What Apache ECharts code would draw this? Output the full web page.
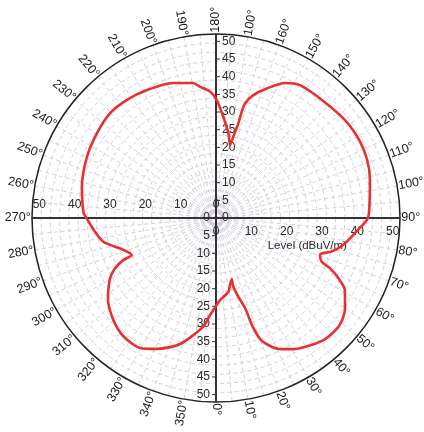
<!DOCTYPE html>
<html><head><meta charset="utf-8">
<script src="https://cdn.jsdelivr.net/npm/echarts@6/dist/echarts.min.js"></script>
<style>html,body{margin:0;padding:0;background:#fff}#c{width:424px;height:432px}</style>
</head><body><div id="c"></div>
<script>
// Angle tick values (degrees) and their printed labels
const angleTicks = [0,10,20,30,40,50,60,70,80,90,100,110,120,130,140,150,160,170,180,190,200,210,220,230,240,250,260,270,280,290,300,310,320,330,340,350];
const angleLabels = ['0°','10°','20°','30°','40°','50°','60°','70°','80°','90°','100°','110°','120°','130°','140°','150°','160°','100°','180°','190°','200°','210°','220°','230°','240°','250°','260°','270°','280°','290°','300°','310°','320°','330°','340°','350°'];
// Level axis labels
const verticalTicks = [0,5,10,15,20,25,30,35,40,45,50];
const horizontalTicks = [0,10,20,30,40,50];
const axisTitle = 'Level (dBuV/m)';
// Radiation pattern, in path order
const patternAngles = [2.8,9.5,11.8,14.4,14.1,15.8,17.9,18.7,20.5,25.7,30.1,40.8,48.7,54.8,60.8,63.8,66.2,67.5,70.4,71.5,73.8,78.0,83.8,89.2,91.9,103.9,111.0,118.6,127.2,138.1,147.7,152.9,158.6,163.1,165.8,166.4,166.7,168.0,169.1,171.7,175.9,179.7,182.7,186.9,189.7,197.7,208.3,217.0,225.3,234.5,244.7,257.0,267.8,270.5,276.5,281.9,285.9,289.0,293.7,294.4,296.5,299.6,303.8,306.9,314.4,321.8,329.7,335.8,344.1,353.2,356.5,359.4,2.8];
const patternLevels = [22.3,20.3,18.6,17.2,19.2,22.2,25.7,31.3,35.7,39.5,41.2,44.1,44.5,42.9,40.1,37.1,33.9,31.1,30.0,30.3,32.7,35.3,38.0,41.0,41.6,43.1,44.0,44.3,44.0,43.1,42.7,41.2,37.8,34.9,32.1,29.7,26.4,22.6,20.2,23.3,27.6,32.1,34.4,35.9,37.2,38.5,39.5,40.2,40.5,39.7,38.8,37.4,36.0,35.0,33.1,31.3,28.5,26.6,25.0,27.7,30.7,33.1,35.2,36.7,39.2,40.8,40.9,39.0,35.6,29.8,26.4,24.3,22.3];

const RMAX = 50;
const LABEL_SCALE = 0.96;
const FONT = '"Liberation Sans", Arial, sans-serif';
const GRID_COLOR = '#d5cee0';

const chart = echarts.init(document.getElementById('c'), null, {renderer: 'canvas'});

function renderDecor(params, api) {
  const ch = [];
  const pT = api.coord([RMAX, 180]), pB = api.coord([RMAX, 0]);
  const pL = api.coord([RMAX, 270]), pR = api.coord([RMAX, 90]);
  const axisStyle = {stroke: '#333', lineWidth: 2};
  ch.push({type: 'line', shape: {x1: pL[0], y1: pL[1], x2: pR[0], y2: pR[1]}, style: axisStyle});
  ch.push({type: 'line', shape: {x1: pT[0], y1: pT[1], x2: pB[0], y2: pB[1]}, style: axisStyle});

  // angle labels, rotated along the radius
  angleTicks.forEach((a, i) => {
    const p = api.coord([RMAX + 0.35, a]);
    let phi = ((270 + a) % 360 + 360) % 360;
    let rot, align = 'left';
    if (phi > 90 && phi < 270) { rot = phi - 180; align = 'right'; }
    else if (phi >= 270) { rot = phi - 360; }
    else { rot = phi; }
    ch.push({type: 'text', x: p[0], y: p[1], rotation: rot * Math.PI / 180,
      style: {text: angleLabels[i], x: 0, y: 0, align: align, verticalAlign: 'middle',
        fill: '#1a1a1a', font: '12.5px ' + FONT}});
  });

  // vertical axis labels: top half right of axis, bottom half left of axis
  verticalTicks.forEach(v => {
    const pt = api.coord([v * LABEL_SCALE, 180]);
    const pb = api.coord([v * LABEL_SCALE, 0]);
    ch.push({type: 'text', x: pt[0] + 6, y: pt[1], style: {text: String(v), align: 'left', verticalAlign: 'middle', fill: '#2a2a2a', font: '12px ' + FONT}});
    ch.push({type: 'text', x: pb[0] - 6, y: pb[1], style: {text: String(v), align: 'right', verticalAlign: 'middle', fill: '#2a2a2a', font: '12px ' + FONT}});
    if (v > 0) {
      ch.push({type: 'line', shape: {x1: pt[0], y1: pt[1], x2: pt[0] + 4, y2: pt[1]}, style: {stroke: '#333', lineWidth: 1}});
      ch.push({type: 'line', shape: {x1: pb[0] - 4, y1: pb[1], x2: pb[0], y2: pb[1]}, style: {stroke: '#333', lineWidth: 1}});
    }
  });
  // horizontal axis labels: left half above, right half below
  horizontalTicks.forEach(v => {
    const pl = api.coord([v * LABEL_SCALE, 270]);
    const pr = api.coord([v * LABEL_SCALE, 90]);
    ch.push({type: 'text', x: pl[0], y: pl[1] - 13, style: {text: String(v), align: 'center', verticalAlign: 'middle', fill: '#2a2a2a', font: '12px ' + FONT}});
    ch.push({type: 'text', x: pr[0], y: pr[1] + 14, style: {text: String(v), align: 'center', verticalAlign: 'middle', fill: '#2a2a2a', font: '12px ' + FONT}});
  });
  const pTitle = api.coord([25 * LABEL_SCALE, 90]);
  ch.push({type: 'text', x: pTitle[0] + 3, y: pTitle[1] + 28, style: {text: axisTitle, align: 'center', verticalAlign: 'middle', fill: '#2a2a2a', font: '11.5px ' + FONT}});
  return {type: 'group', children: ch};
}

chart.setOption({
  animation: false,
  backgroundColor: '#fff',
  polar: {center: [216, 218], radius: 184},
  angleAxis: {
    type: 'value', min: 0, max: 360, interval: 5, startAngle: 270, clockwise: false,
    axisLine: {lineStyle: {color: '#222', width: 1.5}},
    axisTick: {show: false}, axisLabel: {show: false},
    splitLine: {show: true, lineStyle: {color: GRID_COLOR, type: [4, 3], width: 1}}
  },
  radiusAxis: {
    type: 'value', min: 0, max: RMAX, interval: 2.5,
    axisLine: {show: false}, axisTick: {show: false}, axisLabel: {show: false},
    splitLine: {show: true, lineStyle: {color: GRID_COLOR, type: [4, 3], width: 1}}
  },
  series: [
    {type: 'custom', coordinateSystem: 'polar', silent: true, z: 3,
      data: [[0, 0]], renderItem: renderDecor},
    {type: 'line', coordinateSystem: 'polar', z: 5, symbol: 'none', smooth: 0.25,
      lineStyle: {color: '#e8302e', width: 2.6},
      data: patternAngles.map((a, i) => [patternLevels[i], a])}
  ]
});
</script></body></html>
